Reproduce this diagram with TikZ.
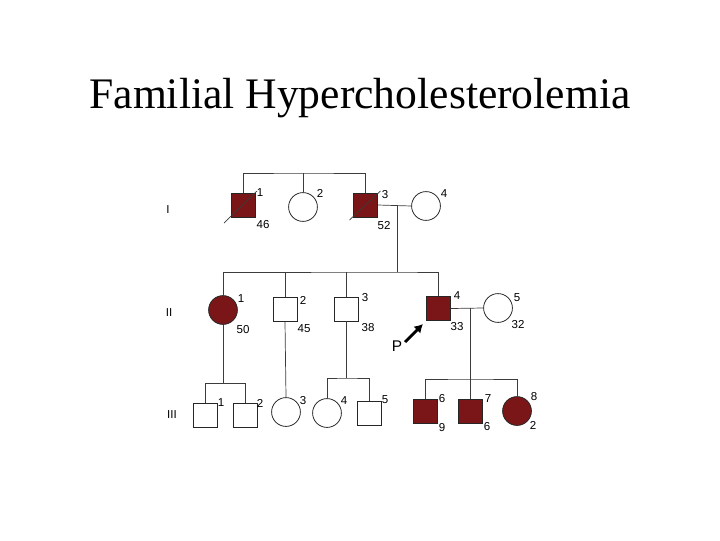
\documentclass[tikz,border=0pt]{standalone}
\usepackage{fontspec}
\setmainfont{Liberation Serif}
\newfontfamily\labfont{Liberation Sans}
\usetikzlibrary{arrows.meta}
\definecolor{affred}{RGB}{122,22,24}
\definecolor{pedline}{RGB}{60,60,60}

\begin{document}
\begin{tikzpicture}[x=0.025cm, y=-0.025cm, >=Latex,
  male/.style={draw=black!85, line width=0.55pt, rectangle, minimum size=0.6cm, inner sep=0pt},
  female/.style={draw=black!85, line width=0.55pt, circle, minimum size=0.72cm, inner sep=0pt},
  affected/.style={fill=affred},
  num/.style={font=\labfont\fontsize{8.2}{9}\selectfont, inner sep=0pt},
  gen/.style={font=\labfont\fontsize{8.2}{9}\selectfont, inner sep=0pt},
  link/.style={draw=pedline, line width=0.5pt}]

\useasboundingbox (0,0) rectangle (720,540);

% -------------------------------------------------------
% Title
% -------------------------------------------------------
\node[anchor=base, inner sep=0pt, font=\fontsize{31}{36}\selectfont] (title) at (360,108) {Familial Hypercholesterolemia};

% -------------------------------------------------------
% Generation I
% -------------------------------------------------------
\node[gen] (genI) at (168,210) {I};
\node[male, affected] (i1) at (243,205) {};
\node[female] (i2) at (303,207) {};
\node[male, affected] (i3) at (365.5,205) {};
\node[female] (i4) at (426,206) {};

% deceased slashes
\draw[link] ([shift={(-19,18)}]i1.center) -- ([shift={(14,-14)}]i1.center);
\draw[link] ([shift={(-16,15)}]i3.center) -- ([shift={(15,-14)}]i3.center);

\node[num] (i1n) at (260,193) {1};
\node[num] (i1a) at (263,225) {46};
\node[num] (i2n) at (320,193) {2};
\node[num] (i3n) at (385,195) {3};
\node[num] (i3a) at (384,226) {52};
\node[num] (i4n) at (444,194) {4};

\coordinate (sibI) at (303,173);
\draw[link] (i1.north) |- (sibI) -| (i3.north);
\draw[link] (sibI) -- (i2.north);
\draw[link] (i3.east) -- (i4.west);

% -------------------------------------------------------
% Generation II
% -------------------------------------------------------
\node[gen] (genII) at (169,313) {II};
\node[female, affected] (ii1) at (223,310) {};
\node[male] (ii2) at (285,309.5) {};
\node[male] (ii3) at (346,309) {};
\node[male, affected] (ii4) at (438.5,308.5) {};
\node[female] (ii5) at (498,308) {};

\node[num] (ii1n) at (241,299) {1};
\node[num] (ii1a) at (243,330) {50};
\node[num] (ii2n) at (303,300) {2};
\node[num] (ii2a) at (304,329) {45};
\node[num] (ii3n) at (365,298) {3};
\node[num] (ii3a) at (368,328) {38};
\node[num] (ii4n) at (457,296) {4};
\node[num] (ii4a) at (457,327) {33};
\node[num] (ii5n) at (517,298) {5};
\node[num] (ii5a) at (518,325) {32};

\coordinate (mateI) at (397,205);
\coordinate (sibII) at (397,272);
\draw[link] (mateI) -- (sibII);
\draw[link] (ii1.north) |- (sibII) -| (ii4.north);
\draw[link] (ii2.north) -- (ii2.north |- sibII);
\draw[link] (ii3.north) -- (ii3.north |- sibII);
\draw[link] (ii4.east) -- (ii5.west);

% proband
\node[font=\labfont\fontsize{11}{12}\selectfont, inner sep=0pt] (pLabel) at (397,346) {P};
\coordinate (pTail) at (405,342);
\coordinate (pTip) at (423,324);
\draw[line width=2pt, -{Latex[length=6pt, width=7pt]}] (pTail) -- (pTip);

% -------------------------------------------------------
% Generation III
% -------------------------------------------------------
\node[gen] (genIII) at (172,415) {III};
\node[male] (iii1) at (205,415) {};
\node[male] (iii2) at (245,415) {};
\node[female] (iii3) at (286,412) {};
\node[female] (iii4) at (327,413) {};
\node[male] (iii5) at (369,413) {};
\node[male, affected] (iii6) at (425,411) {};
\node[male, affected] (iii7) at (470,411) {};
\node[female, affected] (iii8) at (517,411) {};

\node[num] (iii1n) at (221,403) {1};
\node[num] (iii2n) at (260,403) {2};
\node[num] (iii3n) at (303,401) {3};
\node[num] (iii4n) at (344,401) {4};
\node[num] (iii5n) at (385,400) {5};
\node[num] (iii6n) at (442,399) {6};
\node[num] (iii6a) at (442,428) {9};
\node[num] (iii7n) at (488,399) {7};
\node[num] (iii7a) at (487,427) {6};
\node[num] (iii8n) at (534,397) {8};
\node[num] (iii8a) at (533,425) {2};

\coordinate (sibIIIa) at (223,383);
\draw[link] (ii1.south) -- (sibIIIa);
\draw[link] (iii1.north) |- (sibIIIa) -| (iii2.north);

\draw[link] (ii2.south) -- (iii3.north);

\coordinate (sibIIIb) at (346,378);
\draw[link] (ii3.south) -- (sibIIIb);
\draw[link] (iii4.north) |- (sibIIIb) -| (iii5.north);

\coordinate (mateII) at (470,308);
\coordinate (sibIIIc) at (470,379);
\draw[link] (mateII) -- (sibIIIc);
\draw[link] (iii6.north) |- (sibIIIc) -| (iii8.north);
\draw[link] (sibIIIc) -- (iii7.north);

\end{tikzpicture}
\end{document}
